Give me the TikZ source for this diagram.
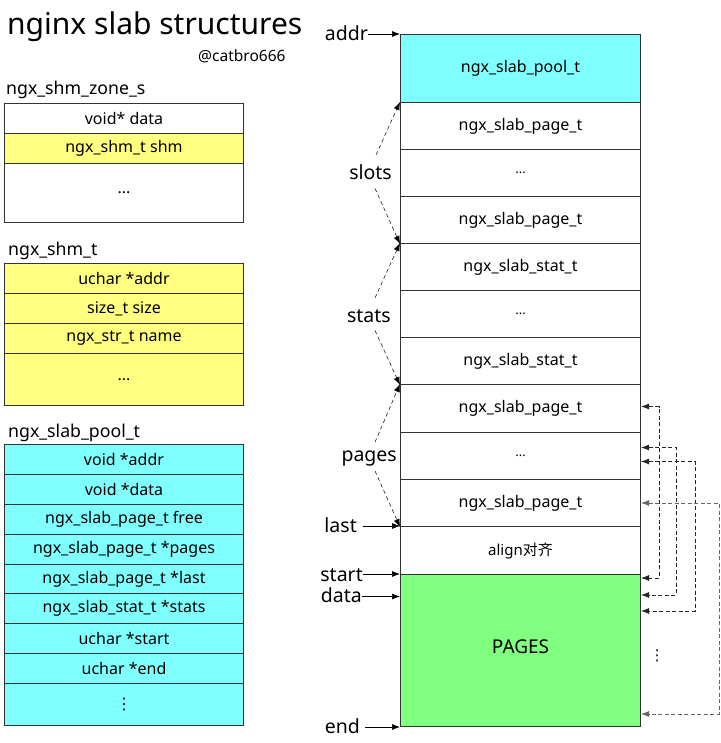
\documentclass[tikz,border=0pt]{standalone}
\usepackage{fontspec}
\setmainfont{Noto Sans}
\newfontfamily\cjkfont{Noto Sans CJK SC}
\newfontfamily\symfont{DejaVu Sans}
\usetikzlibrary{arrows.meta}
\definecolor{ylw}{HTML}{FFFF80}
\definecolor{cyn}{HTML}{80FFFF}
\definecolor{grn}{HTML}{80FF80}
\definecolor{edge}{HTML}{333333}
\begin{document}
\begin{tikzpicture}[x=1pt,y=-1pt,
  cell/.style={draw=edge, line width=1pt, minimum width=239pt, inner sep=0pt,
    font=\fontsize{16}{18}\selectfont, anchor=north west, text=black},
  col/.style={draw=edge, line width=1pt, minimum width=240pt, inner sep=0pt,
    font=\fontsize{16}{18}\selectfont, anchor=north west, text=black},
  lbl/.style={inner sep=0pt, font=\fontsize{19.5}{22}\selectfont, anchor=base east},
  ttl/.style={inner sep=0pt, font=\fontsize{17.7}{20}\selectfont, anchor=base west},
  ptr/.style={-{Latex[length=8pt,width=6pt]}, line width=0.7pt},
  dptr/.style={-{Latex[length=8pt,width=6pt]}, line width=0.5pt, dash pattern=on 4pt off 3pt},
  rptr/.style={{Latex[length=8pt,width=6pt]}-{Latex[length=8pt,width=6pt]}, line width=0.9pt, dash pattern=on 4pt off 2.5pt},
]
\useasboundingbox[fill=white] (0,0) rectangle (720,743);

% title
\node[inner sep=0pt, anchor=base west, font=\fontsize{30}{36}\selectfont] (title) at (7,35) {nginx slab structures};
\node[inner sep=0pt, anchor=base west, font=\fontsize{15.5}{18}\selectfont] (author) at (198,62) {@catbro666};

% ngx_shm_zone_s
\node[ttl] (t1) at (6,95) {ngx\_shm\_zone\_s};
\node[cell, minimum height=30pt] (z1) at (4,103) {void* data};
\node[cell, minimum height=30pt, fill=ylw] (z2) at (4,133) {ngx\_shm\_t shm};
\node[cell, minimum height=59pt] (z3) at (4,163) {\raisebox{-2pt}{...}};

% ngx_shm_t
\node[ttl] (t2) at (8,255) {ngx\_shm\_t};
\node[cell, fill=ylw, minimum height=30pt] (m1) at (4,263) {uchar *addr};
\node[cell, fill=ylw, minimum height=30pt] (m2) at (4,293) {size\_t size};
\node[cell, fill=ylw, minimum height=30pt] (m3) at (4,323) {ngx\_str\_t name};
\node[cell, fill=ylw, minimum height=52pt] (m4) at (4,353) {...};

% ngx_slab_pool_t
\node[ttl] (t3) at (8,437) {ngx\_slab\_pool\_t};
\node[cell, fill=cyn, minimum height=30pt] (q1) at (4,444) {void *addr};
\node[cell, fill=cyn, minimum height=30pt] (q2) at (4,474) {void *data};
\node[cell, fill=cyn, minimum height=30pt] (q3) at (4,504) {ngx\_slab\_page\_t free};
\node[cell, fill=cyn, minimum height=30pt] (q4) at (4,534) {ngx\_slab\_page\_t *pages};
\node[cell, fill=cyn, minimum height=29pt] (q5) at (4,564) {ngx\_slab\_page\_t *last};
\node[cell, fill=cyn, minimum height=30pt] (q6) at (4,593) {ngx\_slab\_stat\_t *stats};
\node[cell, fill=cyn, minimum height=30pt] (q7) at (4,623) {uchar *start};
\node[cell, fill=cyn, minimum height=30pt] (q8) at (4,653) {uchar *end};
\node[cell, fill=cyn, minimum height=42pt, font=\symfont\fontsize{16}{18}\selectfont] (q9) at (4,683) {⋮};

% right column
\node[col, fill=cyn, minimum height=68pt] (pool) at (400,34) {ngx\_slab\_pool\_t};
\node[col, minimum height=47pt] (r1) at (400,102) {ngx\_slab\_page\_t};
\node[col, minimum height=47pt, font=\fontsize{13}{15}\selectfont] (r2) at (400,149) {...};
\node[col, minimum height=47pt] (r3) at (400,196) {ngx\_slab\_page\_t};
\node[col, minimum height=47pt] (s1) at (400,243) {ngx\_slab\_stat\_t};
\node[col, minimum height=47pt, font=\fontsize{13}{15}\selectfont] (s2) at (400,290) {...};
\node[col, minimum height=47pt] (s3) at (400,337) {ngx\_slab\_stat\_t};
\node[col, minimum height=48pt] (p1) at (400,384) {ngx\_slab\_page\_t};
\node[col, minimum height=47pt, font=\fontsize{13}{15}\selectfont] (p2) at (400,432) {...};
\node[col, minimum height=47pt] (p3) at (400,479) {ngx\_slab\_page\_t};
\node[col, minimum height=48pt, font=\fontsize{15}{18}\selectfont] (al) at (400,526) {align{\cjkfont 对齐}};
\node[col, fill=grn, minimum height=152pt, font=\fontsize{19}{22}\selectfont] (pg) at (400,574) {\raisebox{8pt}{PAGES}};
\node[inner sep=0pt, font=\symfont\fontsize{15}{18}\selectfont] (vd) at (657,656) {⋮};

% left labels
\node[lbl] (addr) at (368,41) {addr};
\node[lbl] (slots) at (392,180) {slots};
\node[lbl] (stats) at (391,322) {stats};
\node[lbl] (pages) at (397,461) {pages};
\node[lbl] (last) at (357,532) {last};
\node[lbl] (start) at (363,581) {start};
\node[lbl] (data) at (362,602) {data};
\node[lbl] (end) at (360,733) {end};

% solid pointers
\draw[ptr] (addr.east |- pool.north west) -- (pool.north west);
\draw[ptr] ([xshift=6pt]last.east |- al.north west) -- (al.north west);
\draw[ptr] (start.east |- pg.north west) -- (pg.north west);
\draw[ptr] ([yshift=-22.5pt]data.east |- pg.north west) -- ([yshift=-22.5pt]pg.north west);
\draw[ptr] ([xshift=5pt]end.east |- pg.south west) -- (pg.south west);

% dashed range arrows
\draw[dptr] ([shift={(-16pt,10pt)}]slots.north east) -- (r1.north west);
\draw[dptr] ([shift={(-17pt,-8pt)}]slots.south east) -- (r3.south west);
\draw[dptr] ([shift={(-16pt,11pt)}]stats.north east) -- (s1.north west);
\draw[dptr] ([shift={(-16pt,-8pt)}]stats.south east) -- (s3.south west);
\draw[dptr] ([shift={(-22pt,8pt)}]pages.north east) -- (p1.north west);
\draw[dptr] ([shift={(-22pt,-5pt)}]pages.south east) -- (p3.south west);

% right dashed links
\draw[rptr, draw=black!85] ([yshift=2pt]p1.east) -- ++(18,0) |- ([yshift=-4pt]pg.north east);
\draw[rptr, draw=black!85] ([yshift=8.5pt]p2.east) -- ++(35,0) |- ([yshift=-21pt]pg.north east);
\draw[rptr, draw=black!85] ([yshift=-5.5pt]p2.east) -- ++(54,0) |- ([yshift=-37pt]pg.north east);
\draw[rptr, draw=black!60] (p3.east) -- ++(78,0) |- ([yshift=13pt]pg.south east);
\end{tikzpicture}
\end{document}
